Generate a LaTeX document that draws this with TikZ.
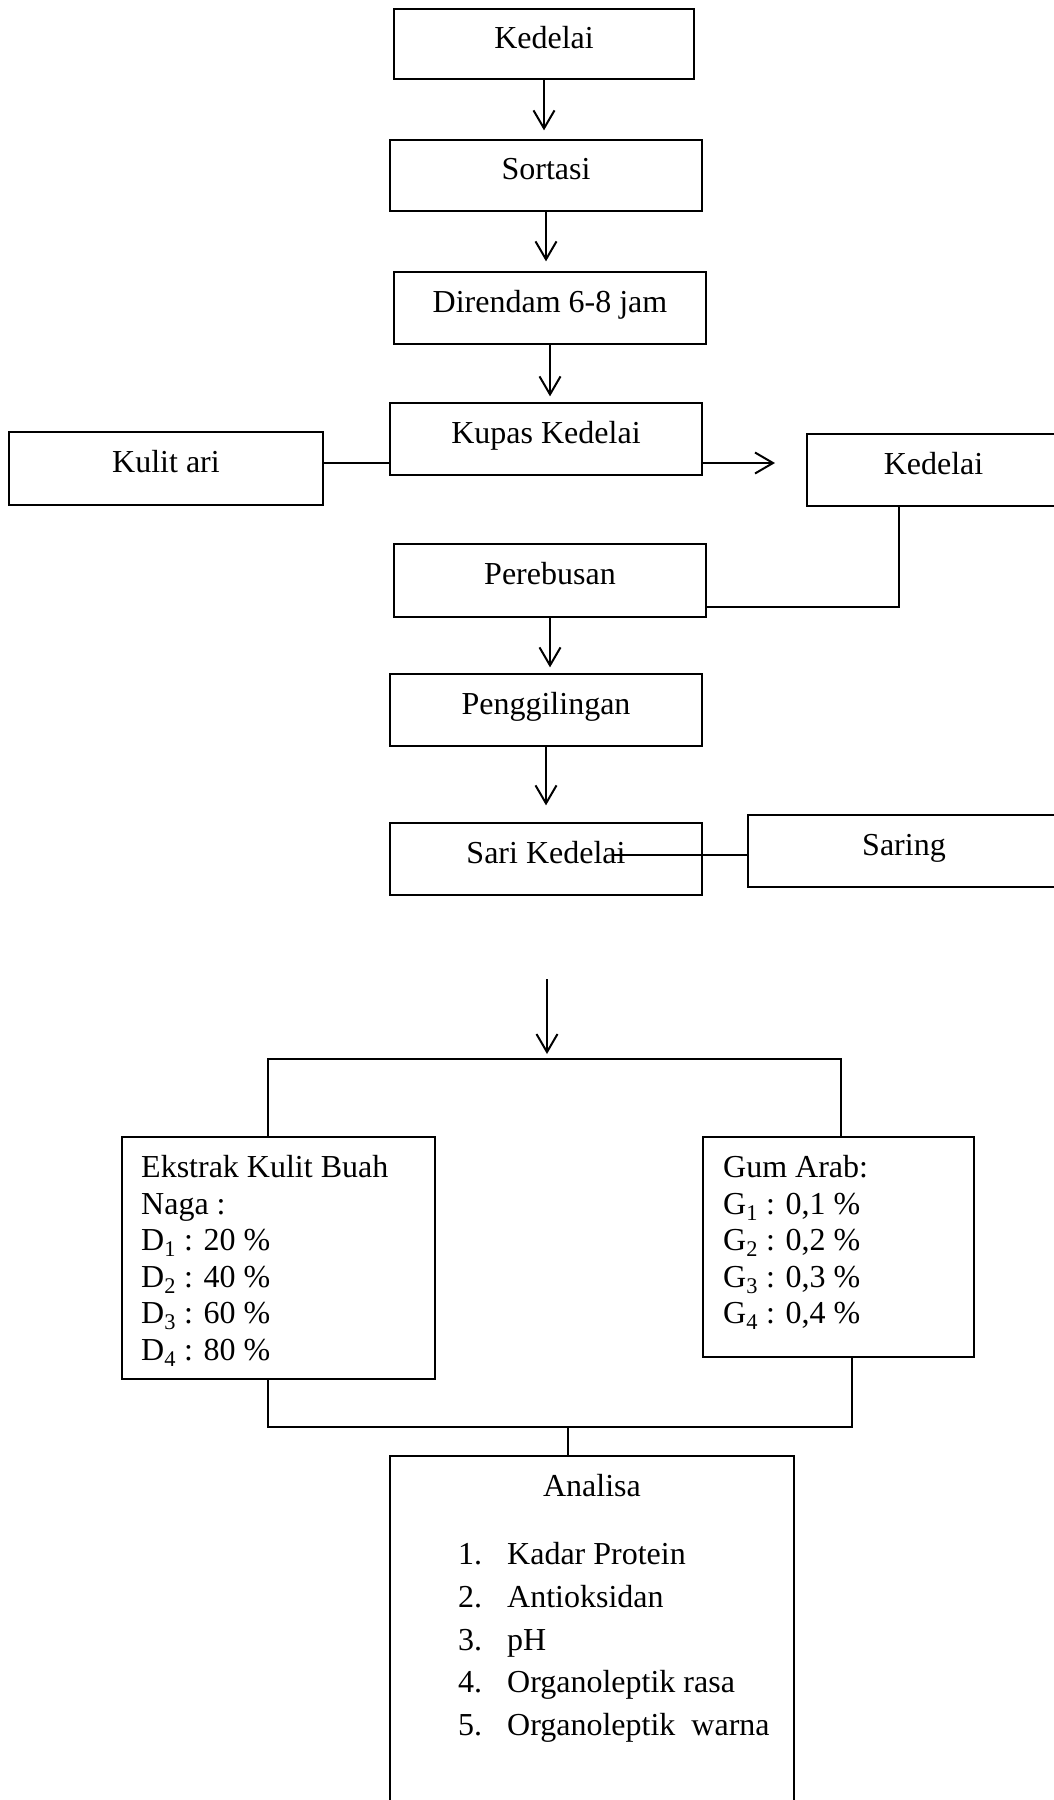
\documentclass[tikz,border=0pt]{standalone}
\usepackage{fontspec}
\setmainfont{Liberation Serif}
\usetikzlibrary{arrows.meta}
\begin{document}
\begin{tikzpicture}[x=1pt,y=-1pt,
  font=\fontsize{32}{38}\selectfont,
  box/.style={draw=black, line width=1.3pt, inner sep=0pt, text height=22pt, text depth=14pt},
  ln/.style={line width=2pt},
  arr/.style={line width=2pt, -{Straight Barb[length=18pt,width=21pt,line width=2pt]}},
  txt/.style={anchor=base west, inner sep=0pt}]
\useasboundingbox (0,0) rectangle (1054,1800);
\fill[white] (0,0) rectangle (1054,1800);
\clip (0,0) rectangle (1054,1800);
% boxes
\node[box, minimum width=300pt, minimum height=70pt] (k1) at (544,44) {Kedelai};
\node[box, minimum width=312pt, minimum height=71pt] (sortasi) at (546,175.5) {Sortasi};
\node[box, minimum width=312pt, minimum height=72pt] (rendam) at (550,308) {Direndam 6-8 jam};
\node[box, minimum width=312pt, minimum height=72pt] (kupas) at (546,439) {Kupas Kedelai};
\node[box, minimum width=314pt, minimum height=73pt] (kulit) at (166,468.5) {Kulit ari};
\node[box, minimum width=253pt, minimum height=72pt] (kedR) at (933.5,470) {Kedelai};
\node[box, minimum width=312pt, minimum height=73pt] (rebus) at (550,580.5) {Perebusan};
\node[box, minimum width=312pt, minimum height=72pt] (giling) at (546,710) {Penggilingan};
\node[box, minimum width=312pt, minimum height=72pt] (sari) at (546,859) {Sari Kedelai};
\node[box, minimum width=312pt, minimum height=72pt] (saring) at (904,851) {Saring};
\node[box, minimum width=313pt, minimum height=242pt] (ekstrak) at (278.5,1258) {};
\node[box, minimum width=271pt, minimum height=220pt] (gum) at (838.5,1247) {};
\node[box, minimum width=404pt, minimum height=374pt] (analisa) at (592,1643) {};
% texts in ekstrak
\node[txt] (e1) at (141,1177) {Ekstrak Kulit Buah};
\node[txt] (e2) at (141,1214) {Naga :};
\node[txt] (e3) at (141,1250) {D\textsubscript{1} : 20 \%};
\node[txt] (e4) at (141,1287) {D\textsubscript{2} : 40 \%};
\node[txt] (e5) at (141,1323) {D\textsubscript{3} : 60 \%};
\node[txt] (e6) at (141,1360) {D\textsubscript{4} : 80 \%};
% texts in gum
\node[txt] (g1) at (723,1177) {Gum Arab:};
\node[txt] (g2) at (723,1214) {G\textsubscript{1} : 0,1 \%};
\node[txt] (g3) at (723,1250) {G\textsubscript{2} : 0,2 \%};
\node[txt] (g4) at (723,1287) {G\textsubscript{3} : 0,3 \%};
\node[txt] (g5) at (723,1323) {G\textsubscript{4} : 0,4 \%};
% texts in analisa
\node[anchor=base, inner sep=0pt] (a0) at (592,1496) {Analisa};
\node[txt] (n1) at (458,1564) {1.};
\node[txt] (n2) at (458,1607) {2.};
\node[txt] (n3) at (458,1650) {3.};
\node[txt] (n4) at (458,1692) {4.};
\node[txt] (n5) at (458,1735) {5.};
\node[txt] (t1) at (507,1564) {Kadar Protein};
\node[txt] (t2) at (507,1607) {Antioksidan};
\node[txt] (t3) at (507,1650) {pH};
\node[txt] (t4) at (507,1692) {Organoleptik rasa};
\node[txt] (t5) at (507,1735) {Organoleptik\ \ warna};
% coordinates
\coordinate (kt) at (775,463);
\coordinate (kd) at (899,607);
\coordinate (sl) at (614,855);
\coordinate (a6s) at (547,979);
\coordinate (br) at (547,1059);
\coordinate (bl) at (268,1059);
\coordinate (brr) at (841,1059);
\coordinate (jl) at (268,1427);
\coordinate (jr) at (852,1427);
\coordinate (jc) at (568,1427);
% vertical arrows
\draw[arr, shorten >=9pt] (k1.south) -- (k1.south |- sortasi.north);
\draw[arr, shorten >=10pt] (sortasi.south) -- (sortasi.south |- rendam.north);
\draw[arr, shorten >=6pt] (rendam.south) -- (rendam.south |- kupas.north);
\draw[arr, shorten >=6pt] (rebus.south) -- (rebus.south |- giling.north);
\draw[arr, shorten >=17pt] (giling.south) -- (giling.south |- sari.north);
\draw[arr, shorten >=5pt] (a6s) -- (br);
% side connectors
\draw[ln] (kulit.east |- kt) -- (kupas.west |- kt);
\draw[arr] (kupas.east |- kt) -- (kt);
\draw[ln] (kedR.south -| kd) -- (kd) -- (rebus.east |- kd);
\draw[line width=1.6pt] (sl) -- (saring.west |- sl);
% branches
\draw[ln] (ekstrak.north -| bl) -- (bl) -- (brr) -- (gum.north -| brr);
\draw[ln] (ekstrak.south -| jl) -- (jl) -- (jr) -- (gum.south -| jr);
\draw[ln] (jc) -- (analisa.north -| jc);
\end{tikzpicture}
\end{document}
